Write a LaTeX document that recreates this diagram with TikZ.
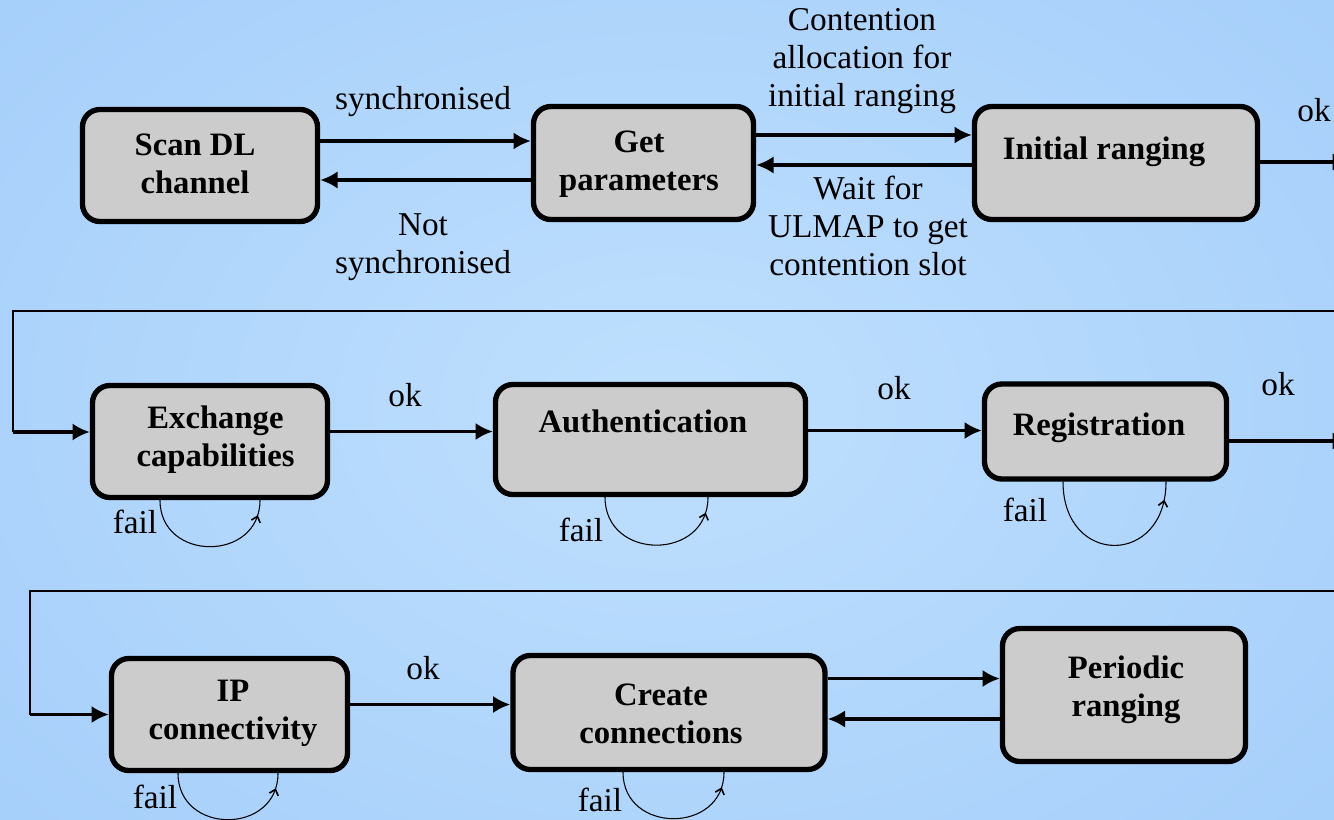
\documentclass[tikz,border=0pt]{standalone}
\usepackage{fontspec}
\setmainfont{Liberation Serif}
\usetikzlibrary{arrows.meta,calc,decorations.markings}
\definecolor{bgin}{RGB}{191,224,254}
\definecolor{bgout}{RGB}{166,207,250}
\definecolor{boxfill}{RGB}{204,204,204}
\begin{document}
\begin{tikzpicture}[x=0.75pt,y=-0.75pt,
  stbox/.style={draw=black, fill=boxfill, line width=4pt, rounded corners=13pt, inner sep=0pt},
  btxt/.style={font=\fontsize{24.5}{28.5}\selectfont\bfseries, align=center, inner sep=0pt},
  lbl/.style={font=\fontsize{25}{28.5}\selectfont, align=center, inner sep=0pt},
  arr/.style={line width=2.5pt, -{Latex[length=13pt,width=13pt]}},
  thinline/.style={line width=1.6pt},
  failloop/.style={line width=0.8pt, postaction=decorate,
    decoration={markings, mark=at position 0.9 with {\arrow{Straight Barb[length=4pt,width=7pt,line width=1.2pt]}}}}
]
\useasboundingbox (0,0) rectangle (1334,819);
\shade[inner color=bgin, outer color=bgout] (-200,-200) rectangle (1534,1019);
\begin{scope}
\clip (0,0) rectangle (1334,819);

% boxes
\node[stbox, minimum width=176.25pt, minimum height=84pt] (sd) at (200,165.5) {};
\node[stbox, minimum width=165pt, minimum height=84.75pt] (gp) at (643.5,163) {};
\node[stbox, minimum width=212.25pt, minimum height=84.75pt] (ir) at (1116,163) {};
\node[stbox, minimum width=176.25pt, minimum height=84pt] (ec) at (210,441.5) {};
\node[stbox, minimum width=232.5pt, minimum height=82.5pt] (au) at (650.5,439.5) {};
\node[stbox, minimum width=181.5pt, minimum height=71.25pt] (rg) at (1105.5,431.5) {};
\node[stbox, minimum width=177pt, minimum height=84pt] (ip) at (229.5,714.5) {};
\node[stbox, minimum width=234pt, minimum height=85.5pt] (cc) at (669,712.5) {};
\node[stbox, minimum width=182.25pt, minimum height=99.75pt] (pr) at (1124,695) {};

% box texts
\node[btxt] (sdT) at (195,164) {Scan DL\\channel};
\node[btxt] (gpT) at (639,164.5) {Get\\parameters};
\node[btxt] (irT) at (1104,152) {Initial ranging};
\node[btxt] (ecT) at (215.5,439.5) {Exchange\\capabilities};
\node[btxt] (auT) at (643,421) {Authentication};
\node[btxt] (rgT) at (1099,428) {Registration};
\node[btxt] (ipT) at (233,713) {IP\\connectivity};
\node[btxt] (ccT) at (661,714) {Create\\connections};
\node[btxt] (prT) at (1126,689.5) {Periodic\\ranging};

% row 1 connectors
\draw[arr] ($(sd.east)+(0,-24.5)$) coordinate (a1) -- (a1 -| gp.west);
\draw[arr] ($(gp.west)+(0,17)$) coordinate (a2) -- (a2 -| sd.east);
\draw[arr] ($(gp.east)+(0,-28)$) coordinate (a3) -- (a3 -| ir.west);
\draw[arr] ($(ir.west)+(0,2)$) coordinate (a4) -- (a4 -| gp.east);
\coordinate (o1) at (1350,162);
\draw[arr] (ir.east |- o1) -- (o1);

\node[lbl] (l1) at (423,102) {synchronised};
\node[lbl] (l2) at (423,247) {Not\\synchronised};
\node[lbl] (l3) at (862,61) {Contention\\allocation for\\initial ranging};
\node[lbl] (l4) at (868,226) {Wait for\\ULMAP to get\\contention slot};
\node[lbl] (l5) at (1314,110) {ok};

% row 2 feed
\coordinate (r2a) at (1340,311);
\coordinate (r2b) at (13,311);
\coordinate (r2c) at (13,432);
\draw[thinline] (r2a) -- (r2b) -- (r2c);
\draw[arr] (r2c) -- (r2c -| ec.west);

% row 2 connectors
\draw[arr] ($(ec.east)+(0,-10)$) coordinate (b1) -- (b1 -| au.west);
\draw[arr] ($(au.east)+(0,-9)$) coordinate (b2) -- (b2 -| rg.west);
\coordinate (o2) at (1350,441);
\draw[arr] (rg.east |- o2) -- (o2);
\node[lbl] (l6) at (405,395) {ok};
\node[lbl] (l7) at (894,388) {ok};
\node[lbl] (l8) at (1278,384) {ok};

% row 3 feed
\coordinate (r3a) at (1340,591);
\coordinate (r3b) at (30,591);
\coordinate (r3c) at (30,714.5);
\draw[thinline] (r3a) -- (r3b) -- (r3c);
\draw[arr] (r3c) -- (r3c -| ip.west);

% row 3 connectors
\draw[arr] ($(ip.east)+(0,-10)$) coordinate (c1) -- (c1 -| cc.west);
\draw[arr] ($(cc.east)+(0,-34)$) coordinate (c2) -- (c2 -| pr.west);
\draw[arr] ($(pr.west)+(0,24)$) coordinate (c3) -- (c3 -| cc.east);
\node[lbl] (l9) at (423,668) {ok};

% fail loops
\draw[failloop] ($(ec.south)+(-50,0)$) coordinate (f1a) .. controls ($(f1a)+(0,62)$) and ($(ec.south)+(50,62)$) .. ($(ec.south)+(50,0)$);
\draw[failloop] ($(au.south)+(-45.5,0)$) coordinate (f2a) .. controls ($(f2a)+(0,64)$) and ($(au.south)+(57.5,64)$) .. ($(au.south)+(57.5,0)$);
\draw[failloop] ($(rg.south)+(-42.5,0)$) coordinate (f3a) .. controls ($(f3a)+(0,85)$) and ($(rg.south)+(60.5,85)$) .. ($(rg.south)+(60.5,0)$);
\draw[failloop] ($(ip.south)+(-51.5,0)$) coordinate (f4a) .. controls ($(f4a)+(0,62)$) and ($(ip.south)+(48.5,62)$) .. ($(ip.south)+(48.5,0)$);
\draw[failloop] ($(cc.south)+(-46,0)$) coordinate (f5a) .. controls ($(f5a)+(0,62)$) and ($(cc.south)+(55,62)$) .. ($(cc.south)+(55,0)$);
\node[lbl] (fl1) at (135,522) {fail};
\node[lbl] (fl2) at (581,530) {fail};
\node[lbl] (fl3) at (1025,510) {fail};
\node[lbl] (fl4) at (155,797) {fail};
\node[lbl] (fl5) at (600,800) {fail};
\end{scope}
\end{tikzpicture}
\end{document}
